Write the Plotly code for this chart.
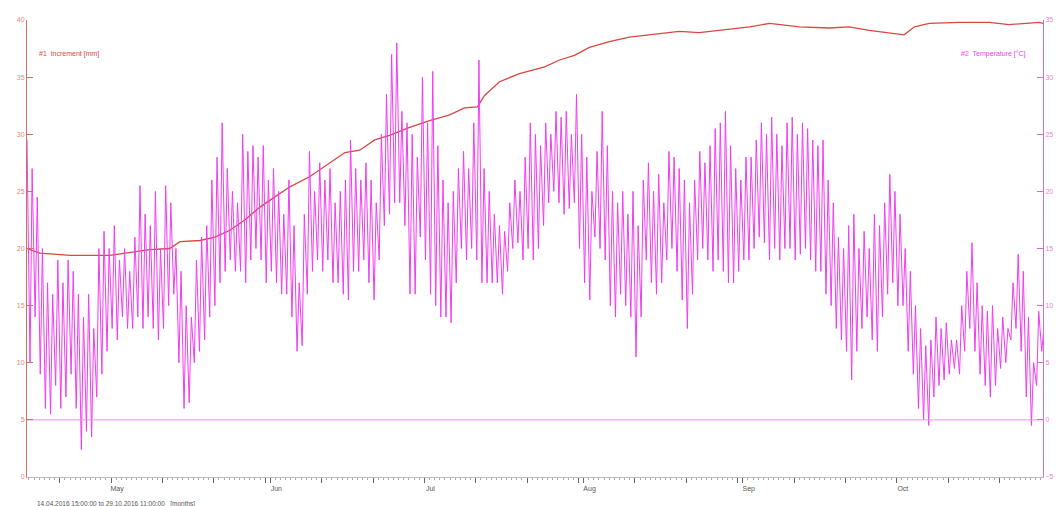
import pandas as pd
import plotly.graph_objects as go

# ---------------- data ----------------
START = "2016-04-14 15:00"
END = "2016-10-29 11:00"

# Increment (left axis) : days since start, value
inc_days = [0, 2.5, 8.4, 16.1, 23.9, 27.8, 29.8, 33.7, 36.6, 39.5, 42.4, 45.3, 48.2,
            51.2, 55.1, 59.0, 61.9, 64.8, 67.7, 70.6, 74.5, 78.4, 82.3, 85.2, 87.7,
            89.1, 92.0, 95.9, 100.8, 103.7, 106.6, 109.5, 113.4, 117.3, 121.2, 127.0,
            130.9, 134.8, 140.7, 144.6, 150.4, 156.2, 160.1, 164.0, 167.9, 170.8,
            172.8, 175.7, 181.5, 187.4, 191.2, 197.1, 197.83]
inc_vals = [20.0, 19.6, 19.4, 19.4, 19.9, 20.0, 20.6, 20.7, 21.0, 21.6, 22.5, 23.6, 24.5,
            25.4, 26.3, 27.5, 28.4, 28.6, 29.5, 29.9, 30.6, 31.2, 31.7, 32.3, 32.4,
            33.4, 34.6, 35.3, 35.9, 36.5, 36.9, 37.6, 38.1, 38.5, 38.7, 39.0,
            38.9, 39.1, 39.4, 39.7, 39.4, 39.3, 39.4, 39.1, 38.9, 38.7,
            39.4, 39.7, 39.8, 39.8, 39.6, 39.8, 39.7]

# Temperature (right axis): daily minimum / maximum, from 15.04.2016
temp_first = 24.5
temp_min = [5, 9, 4, 1, 0.5, 3, 1, 2, 4, 1,
            -2.6, -1, -1.5, 2, 4, 6, 8, 7, 9, 8,
            8, 9, 8, 9, 8, 7, 8, 10, 11, 5,
            1, 1.5, 5, 6, 7, 9, 10, 12, 13, 14,
            13, 13, 12, 14, 15, 14, 12, 13, 12, 11,
            11, 9, 6, 6.5, 11, 13, 14, 13, 14, 12,
            12, 11, 10.5, 13, 13, 14, 12, 10.5, 14, 17,
            18, 19, 19, 17, 11, 11, 16, 14, 11, 10,
            9, 9, 8.5, 12, 15, 14, 15, 14, 12, 12,
            12, 12, 11, 13, 15, 15.5, 14, 15, 14, 15,
            17, 19, 20, 19, 18, 18.5, 19, 15, 12, 10.5,
            16, 15, 14, 10, 9, 11, 10, 9, 5.5, 9,
            14, 12, 11, 12, 14, 15, 13, 10.5, 8, 11,
            14, 15, 14, 13, 14, 13, 12, 12, 13, 14,
            14, 15, 16, 15.5, 14, 15, 14, 15, 15, 14,
            14.5, 15, 14, 13, 13, 11, 10, 8, 7, 6,
            3.5, 6, 8, 9, 7, 6, 9, 11, 12, 10,
            10, 6, 4, 1, 0, -0.5, 2, 3, 3.5, 4,
            4.5, 4, 6, 8, 6, 4, 3, 2, 3, 4.5,
            5, 7, 8, 6, 2, -0.5, 3, 6]
temp_max = [22, 19.5, 15, 12, 11, 14, 12, 14, 13, 11,
            9, 11, 8, 15, 16.5, 15, 17, 14, 15, 13,
            16, 20.5, 18, 17, 20, 15, 20.5, 19, 15, 13,
            10, 9, 14, 16, 17, 21, 23, 26, 22, 20,
            19, 25, 23.5, 24, 23, 24, 21, 22, 20, 18,
            21, 17, 12, 18, 23.5, 20, 22.5, 21, 22, 19,
            20, 21, 24.5, 22, 21, 22.5, 21, 19, 25, 28.5,
            32, 33, 27, 26, 25, 23, 30, 26, 30.5, 24,
            21, 19, 20, 22, 23.5, 22, 26, 31.5, 22, 20,
            18, 17, 16.5, 19, 21, 20, 23, 26, 25, 24,
            26, 25, 27, 26.5, 27, 25, 28.5, 25, 23, 20,
            23.5, 27, 24, 20, 19, 20, 18, 20, 17, 21,
            22.5, 20, 21.5, 19, 23.5, 23, 22, 21, 19, 21,
            23.5, 22.5, 24, 25.5, 26, 27, 24, 22, 21, 23,
            23, 24.5, 26, 25, 26.5, 25, 24, 26, 26.5, 25,
            26, 25.5, 24.5, 24, 24.5, 21, 19, 16, 15, 17,
            18, 15, 16.5, 15, 18, 17, 19, 21.5, 20, 18,
            15, 13, 10, 8, 6.5, 7, 9, 8, 8.5, 7,
            7, 10, 13, 15.5, 12, 10, 9.5, 10, 8, 9,
            8, 12, 14.5, 13, 9, 5, 9.5, 8]

zero_line_temp = 0
left_ticks = [0, 5, 10, 15, 20, 25, 30, 35, 40]
right_ticks = [-5, 0, 5, 10, 15, 20, 25, 30, 35]
month_names = {5: "May", 6: "Jun", 7: "Jul", 8: "Aug", 9: "Sep", 10: "Oct"}
subtitle = "14.04.2016 15:00:00 to 29.10.2016 11:00:00   [months]"
label_inc = "#1  Increment [mm]"
label_temp = "#2  Temperature [°C]"

# ---------------- build series ----------------
t0 = pd.Timestamp(START)
inc_x = [t0 + pd.Timedelta(days=d) for d in inc_days]

day0 = pd.Timestamp("2016-04-15")
temp_x = [t0]
temp_y = [temp_first]
for i, (mn, mx) in enumerate(zip(temp_min, temp_max)):
    d = day0 + pd.Timedelta(days=i)
    temp_x += [d + pd.Timedelta(hours=5), d + pd.Timedelta(hours=15)]
    temp_y += [mn, mx]

# ticks on day 1, 11, 21, 31
tickvals, ticktext = [], []
for d in pd.date_range("2016-04-15", "2016-10-29", freq="D"):
    if d.day in (1, 11, 21, 31):
        tickvals.append(d)
        ticktext.append(month_names.get(d.month, "") if d.day == 1 else "")

FONT = "Liberation Sans"
RED = "#d9473f"
MAG = "#f23cf2"

fig = go.Figure()
fig.add_trace(go.Scatter(x=temp_x, y=temp_y, mode="lines", yaxis="y2",
                         line=dict(color=MAG, width=1), showlegend=False,
                         hoverinfo="skip"))
fig.add_trace(go.Scatter(x=[t0, pd.Timestamp(END)], y=[zero_line_temp] * 2,
                         mode="lines", yaxis="y2",
                         line=dict(color="#ea8fea", width=1), showlegend=False))
fig.add_trace(go.Scatter(x=inc_x, y=inc_vals, mode="lines",
                         line=dict(color=RED, width=1.3), showlegend=False))

fig.update_layout(
    width=1056, height=506,
    margin=dict(l=27, r=13, t=20, b=29, autoexpand=False),
    paper_bgcolor="white", plot_bgcolor="white",
    font=dict(family=FONT, size=7, color="#555"),
    xaxis=dict(range=[t0, pd.Timestamp(END)], showgrid=False, zeroline=False,
               showline=True, linecolor="#eaa6b6", linewidth=1,
               tickmode="array", tickvals=tickvals, ticktext=ticktext,
               ticks="outside", ticklen=5, tickcolor="#666", tickwidth=1,
               ticklabelshift=6, automargin=False,
               tickfont=dict(size=7, color="#555"),
               minor=dict(ticks="outside", ticklen=2, tickcolor="#b0a0a8",
                          dtick=86400000, tick0="2016-04-15"),
               fixedrange=True),
    yaxis=dict(range=[0, 40], tickvals=left_ticks, showgrid=False, zeroline=False,
               showline=True, linecolor="#c9735f", linewidth=1, automargin=False,
               ticks="inside", ticklen=6, tickcolor="#c9735f",
               tickfont=dict(size=7, color="#d88a7c")),
    yaxis2=dict(range=[-5, 35], tickvals=right_ticks, overlaying="y", side="right",
                showgrid=False, zeroline=False, showline=True, automargin=False,
                linecolor="#cf6fcf", linewidth=1,
                ticks="inside", ticklen=6, tickcolor="#cf6fcf",
                tickfont=dict(size=7, color="#d98ad9")),
    annotations=[
        dict(text=label_inc, xref="paper", yref="paper", x=0.01, y=0.925,
             xanchor="left", yanchor="middle", showarrow=False,
             font=dict(size=7, color=RED)),
        dict(text=label_temp, xref="paper", yref="paper", x=0.985, y=0.925,
             xanchor="right", yanchor="middle", showarrow=False,
             font=dict(size=7, color=MAG)),
        dict(text=subtitle, xref="paper", yref="paper", x=0.008, y=-0.058,
             xanchor="left", yanchor="middle", showarrow=False,
             font=dict(size=6.5, color="#555")),
    ],
)

fig.write_html("out.html", config={"displayModeBar": False},
               post_script="document.body.style.margin='0';document.body.style.overflow='hidden';")
